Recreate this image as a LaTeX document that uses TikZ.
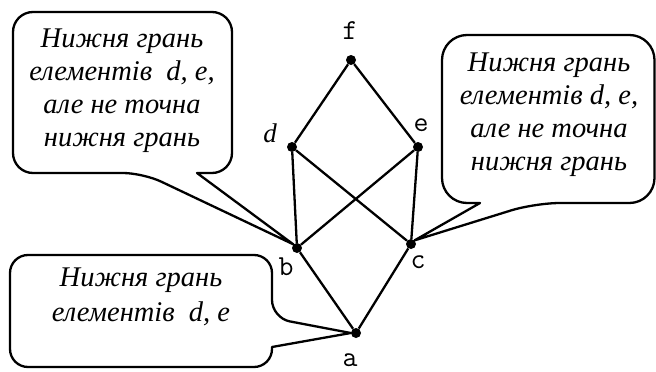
\documentclass[tikz,border=0pt]{standalone}
\usepackage{fontspec}
\setmainfont{Liberation Serif}
\usetikzlibrary{positioning}

\tikzset{
  dot/.style={circle, fill=black, inner sep=0pt, minimum size=10pt},
  vname/.style={font=\ttfamily\fontsize{29}{29}\selectfont, inner sep=0pt},
  note/.style={font=\itshape\fontsize{28.5}{33}\selectfont, align=center, inner sep=0pt},
  bubble/.style={line width=2.3pt, line join=round},
  edge/.style={line width=2.3pt},
}

\begin{document}
\begin{tikzpicture}[x=1pt, y=-1pt]
  \useasboundingbox (0,0) rectangle (656,372);
  % lattice points
  \node[dot] (f) at (351,60) {};
  \node[dot] (d) at (292,147) {};
  \node[dot] (e) at (418,147) {};
  \node[dot] (b) at (297,248) {};
  \node[dot] (c) at (411,244) {};
  \node[dot] (a) at (356,333) {};
  % their names
  \node[vname] (lf) at (350,31) {f};
  \node[vname, font=\itshape\fontsize{27}{27}\selectfont] (ld) at (270,133) {d};
  \node[vname] (le) at (421,125) {e};
  \node[vname] (lb) at (286,267) {b};
  \node[vname] (lc) at (418,262) {c};
  \node[vname] (la) at (350,360) {a};
  % order relation
  \foreach \u/\v in {f/d,f/e,d/b,d/c,e/b,e/c,b/a,c/a}
    \draw[edge] (\u) -- (\v);
  % callouts
  \draw[bubble] (143,173) -- (b.north west) -- (197,173) [rounded corners=20pt]
    -- (232,173) -- (232,12) -- (13,12) -- (13,173) -- cycle;
  \draw[bubble] (535,203) -- (c.north east) -- (480,203) [rounded corners=25pt]
    -- (442,203) -- (442,35) -- (654.5,35) -- (654.5,203) -- cycle;
  \draw[bubble] (272,318) -- (a.west) -- (272,347) [rounded corners=18pt]
    -- (272,367) -- (10,367) -- (10,255) -- (272,255) -- cycle;
  \node[note] (t1) at (122,91) {Нижня грань\\елементів~ d, e,\\але не точна\\нижня грань};
  \node[note] (t2) at (549,115) {Нижня грань\\елементів d, e,\\але не точна\\нижня грань};
  \node[note, font=\itshape\fontsize{28.5}{35}\selectfont] (t3) at (141,297) {Нижня грань\\елементів~ d, e};
\end{tikzpicture}
\end{document}
